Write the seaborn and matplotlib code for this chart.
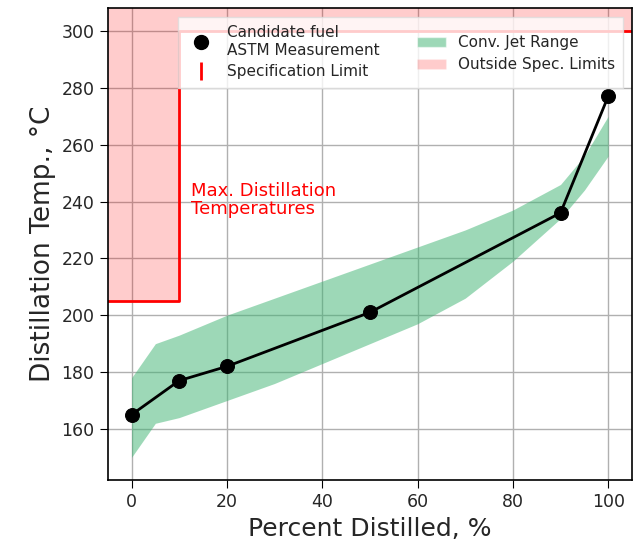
import matplotlib
matplotlib.use('Agg')
import matplotlib.pyplot as plt
import seaborn as sns
import pandas as pd
from matplotlib.lines import Line2D
from matplotlib.patches import Patch

# candidate fuel ASTM D86 points
pct = [0, 10, 20, 50, 90, 100]
temp = [165, 177, 182, 201, 236, 277]

# conventional jet range envelope
band_x = [0, 5, 10, 20, 30, 40, 50, 60, 70, 80, 90, 95, 100]
band_lo = [150, 162, 164, 170, 176, 183, 190, 197, 206, 219, 234, 244, 256]
band_hi = [178, 190, 193, 200, 206, 212, 218, 224, 230, 237, 246, 256, 270]

# specification limit outline
spec_x = [-5, 10, 10, 105]
spec_y = [205, 205, 300, 300]

sns.set_style("whitegrid")
plt.rcParams['font.family'] = ['DejaVu Sans']

fig = plt.figure(figsize=(6.41, 5.45), dpi=100)
ax = fig.add_axes([0.168, 0.119, 0.818, 0.866])

ax.fill_between(spec_x, spec_y, 320, color='red', alpha=0.2, linewidth=0, zorder=1)
ax.plot(spec_x, spec_y, color='red', lw=2, zorder=2)
ax.fill_between(band_x, band_lo, band_hi, color='mediumseagreen', alpha=0.5, linewidth=0, zorder=2)

df = pd.DataFrame({'pct': pct, 'temp': temp})
sns.lineplot(data=df, x='pct', y='temp', ax=ax, color='black', lw=2,
             marker='o', markersize=10, markeredgecolor='black', zorder=4)

ax.text(12.5, 247, 'Max. Distillation\nTemperatures', color='red', fontsize=13,
        va='top', ha='left', linespacing=1.0)

ax.set_xlim(-5, 105)
ax.set_ylim(142, 308)
ax.set_yticks(range(160, 301, 20))
ax.set_xticks(range(0, 101, 20))
ax.tick_params(labelsize=12.5, left=True, bottom=True, length=6, color='black')
ax.grid(color='#b0b0b0', lw=1)
for s in ax.spines.values():
    s.set_color('black')
    s.set_linewidth(1.2)
ax.set_xlabel('Percent Distilled, %', fontsize=18)
ax.set_ylabel('Distillation Temp., °C', fontsize=19)

handles = [
    Line2D([], [], marker='o', color='black', ls='none', markersize=10),
    Line2D([], [], marker='|', color='red', ls='none', markersize=13, markeredgewidth=2),
    Patch(facecolor='mediumseagreen', alpha=0.5),
    Patch(facecolor='red', alpha=0.2),
]
labels = ['Candidate fuel\nASTM Measurement', 'Specification Limit',
          'Conv. Jet Range', 'Outside Spec. Limits']
ax.legend(handles, labels, ncol=2, loc='upper right', fontsize=11,
          frameon=True, framealpha=0.8, fancybox=False, edgecolor='#dddddd',
          bbox_to_anchor=(0.998, 0.998), handletextpad=0.8, columnspacing=2.4,
          labelspacing=0.45, handlelength=1.9, borderpad=0.55)

fig.savefig('out.png', dpi=100)
